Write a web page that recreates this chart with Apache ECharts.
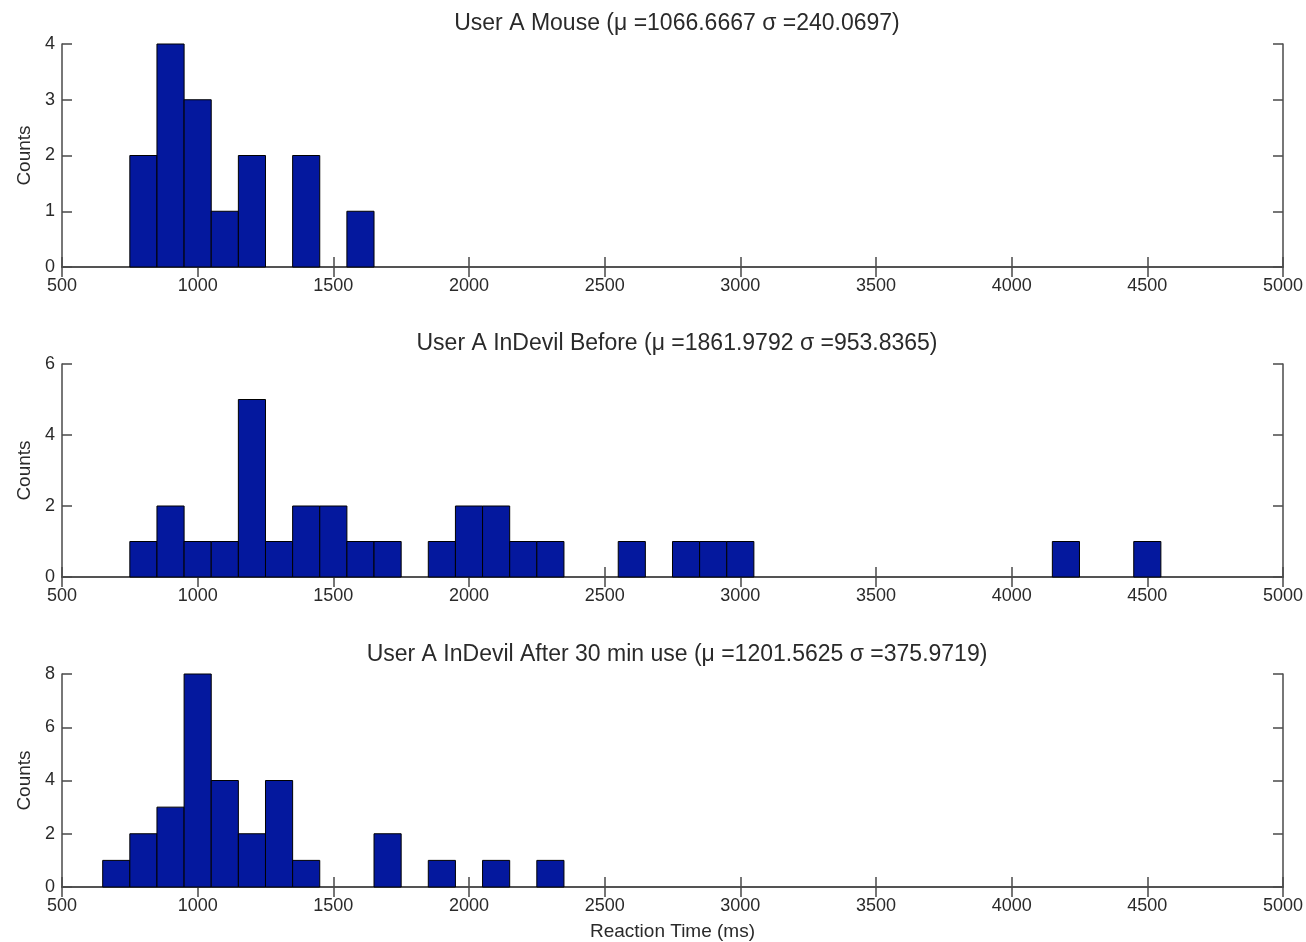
<!DOCTYPE html>
<html>
<head>
<meta charset="utf-8">
<script src="https://cdn.jsdelivr.net/npm/echarts@6/dist/echarts.min.js"></script>
<style>
html,body{margin:0;padding:0;background:#fff;}
#chart{width:1306px;height:942px;}
</style>
</head>
<body>
<div id="chart"></div>
<script>
// ---- data ----
var titles = [
  'User A Mouse (\u03bc =1066.6667 \u03c3 =240.0697)',
  'User A InDevil Before (\u03bc =1861.9792 \u03c3 =953.8365)',
  'User A InDevil After 30 min use (\u03bc =1201.5625 \u03c3 =375.9719)'
];
var binWidth = 100;
var mouseCenters = [800, 900, 1000, 1100, 1200, 1400, 1600];
var mouseCounts  = [2, 4, 3, 1, 2, 2, 1];
var beforeCenters = [800, 900, 1000, 1100, 1200, 1300, 1400, 1500, 1600, 1700, 1900, 2000, 2100, 2200, 2300, 2600, 2800, 2900, 3000, 4200, 4500];
var beforeCounts  = [1, 2, 1, 1, 5, 1, 2, 2, 1, 1, 1, 2, 2, 1, 1, 1, 1, 1, 1, 1, 1];
var afterCenters = [700, 800, 900, 1000, 1100, 1200, 1300, 1400, 1700, 1900, 2100, 2300];
var afterCounts  = [1, 2, 3, 8, 4, 2, 4, 1, 2, 1, 1, 1];
var xMin = 500, xMax = 5000, xInterval = 500;
var yMaxes = [4, 6, 8];
var yIntervals = [1, 2, 2];
var yName = 'Counts';
var xName = 'Reaction Time (ms)';

// ---- layout ----
var barColor = '#04189E';
var axisColor = '#4a4a4a';
var textColor = '#2a2a2a';
var font = 'Liberation Sans, Arial, sans-serif';
var grids = [
  {left: 62, right: 23, top: 44, height: 223},
  {left: 62, right: 23, top: 364, height: 213},
  {left: 62, right: 23, top: 674, height: 213}
];
var titleTops = [7, 327, 638];
var seriesData = [
  [mouseCenters, mouseCounts],
  [beforeCenters, beforeCounts],
  [afterCenters, afterCounts]
];
function plain(v) { return String(v); }

var xAxes = [], yAxes = [], series = [], titleOpts = [];
for (var i = 0; i < 3; i++) {
  titleOpts.push({
    text: titles[i], left: 672, top: titleTops[i], textAlign: 'center',
    textStyle: {fontFamily: font, fontSize: 23, fontWeight: 'normal', color: textColor}
  });
  var common = {
    gridIndex: i, type: 'value', min: xMin, max: xMax, interval: xInterval,
    splitLine: {show: false},
    axisLine: {show: true, lineStyle: {color: axisColor, width: 1.5}},
    axisTick: {show: true, inside: true, length: 10, lineStyle: {color: axisColor, width: 1.5}}
  };
  xAxes.push(Object.assign({}, common, {
    position: 'bottom',
    axisLabel: {show: true, margin: 10, fontFamily: font, fontSize: 18, color: textColor, formatter: plain},
    name: i === 2 ? xName : '', nameLocation: 'middle', nameGap: 35,
    nameTextStyle: {fontFamily: font, fontSize: 19, color: textColor}
  }));
  xAxes.push(Object.assign({}, common, {position: 'top', axisLabel: {show: false}}));
  var ycommon = {
    gridIndex: i, type: 'value', min: 0, max: yMaxes[i], interval: yIntervals[i],
    splitLine: {show: false},
    axisLine: {show: true, lineStyle: {color: axisColor, width: 1.5}},
    axisTick: {show: true, inside: true, length: 10, lineStyle: {color: axisColor, width: 1.5}}
  };
  yAxes.push(Object.assign({}, ycommon, {
    position: 'left',
    axisLabel: {show: true, margin: 7, fontFamily: font, fontSize: 18, color: textColor, formatter: plain},
    name: yName, nameLocation: 'middle', nameGap: 28, nameRotate: 90,
    nameTextStyle: {fontFamily: font, fontSize: 19, color: textColor}
  }));
  yAxes.push(Object.assign({}, ycommon, {position: 'right', axisLabel: {show: false}}));

  var data = [];
  for (var k = 0; k < seriesData[i][0].length; k++) {
    data.push([seriesData[i][0][k], seriesData[i][1][k]]);
  }
  series.push({
    type: 'custom',
    xAxisIndex: 2 * i, yAxisIndex: 2 * i,
    encode: {x: 0, y: 1},
    data: data,
    silent: true,
    renderItem: function (params, api) {
      var c = api.value(0), v = api.value(1);
      var p0 = api.coord([c - binWidth / 2, 0]);
      var p1 = api.coord([c + binWidth / 2, v]);
      return {
        type: 'rect',
        shape: {x: p0[0], y: p1[1], width: p1[0] - p0[0], height: p0[1] - p1[1]},
        style: {fill: barColor, stroke: '#000', lineWidth: 1}
      };
    }
  });
}

var chart = echarts.init(document.getElementById('chart'), null, {renderer: 'canvas'});
chart.setOption({
  backgroundColor: '#fff',
  animation: false,
  title: titleOpts,
  grid: grids,
  xAxis: xAxes,
  yAxis: yAxes,
  series: series
});
</script>
</body>
</html>
